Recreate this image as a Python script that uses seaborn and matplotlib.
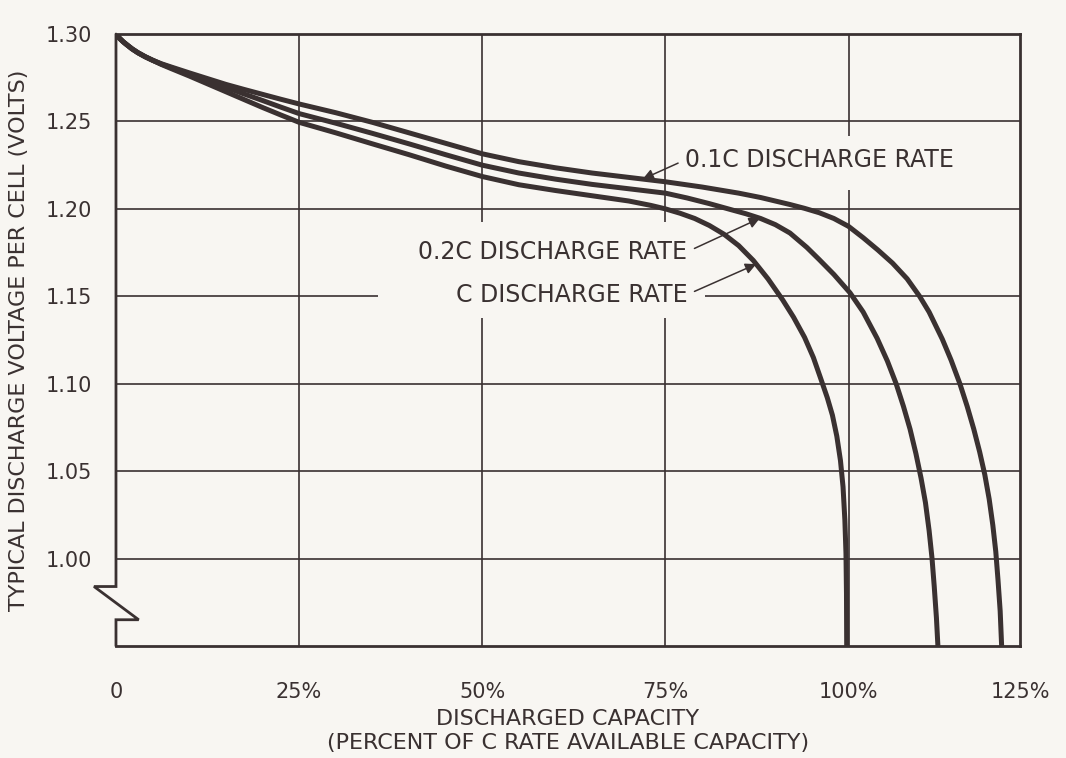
import numpy as np
import pandas as pd
import matplotlib
matplotlib.use("Agg")
import matplotlib.pyplot as plt
from matplotlib.patches import Rectangle
import seaborn as sns

# Discharged capacity (% of C-rate available capacity) and cell voltage (V)
cap_01c = [0, 0.5, 1, 1.5, 2.2, 3, 4, 5, 6.2, 7.5, 10, 12.5, 15, 17.5, 20, 22.5,
           25, 30, 35, 40, 45, 50, 55, 60, 65, 70, 75, 80, 85, 88, 90, 92, 94, 96,
           98, 100, 102, 104, 106, 108, 109.7, 111, 112.8, 114, 115.2, 116.2,
           117.1, 117.9, 118.6, 119.2, 119.7, 120.1, 120.4, 120.7, 120.9]
volt_01c = [1.3000, 1.2975, 1.2955, 1.2938, 1.2915, 1.2893, 1.2870, 1.2850,
            1.2830, 1.2812, 1.2778, 1.2745, 1.2712, 1.2683, 1.2655, 1.2627,
            1.2600, 1.2550, 1.2495, 1.2435, 1.2375, 1.2315, 1.2270, 1.2235,
            1.2205, 1.2180, 1.2155, 1.2125, 1.2090, 1.2065, 1.2045, 1.2025,
            1.2003, 1.1978, 1.1945, 1.1900, 1.1835, 1.1765, 1.1690, 1.1600,
            1.1500, 1.1410, 1.1255, 1.1135, 1.1000, 1.0870, 1.0740, 1.0610,
            1.0480, 1.0340, 1.0190, 1.0040, 0.9880, 0.9700, 0.9500]

cap_02c = [0, 0.5, 1, 1.5, 2.2, 3, 4, 5, 6.2, 7.5, 10, 12.5, 15, 17.5, 20, 22.5,
           25, 30, 35, 40, 45, 50, 55, 60, 65, 70, 75, 78, 81, 84, 86, 88, 90, 92,
           94.3, 96, 98, 100.2, 102, 103.9, 105.3, 106.5, 107.5, 108.4, 109.2,
           109.9, 110.5, 111.0, 111.4, 111.7, 112.0, 112.2]
volt_02c = [1.3000, 1.2975, 1.2955, 1.2938, 1.2915, 1.2893, 1.2870, 1.2850,
            1.2828, 1.2808, 1.2770, 1.2732, 1.2695, 1.2657, 1.2620, 1.2582,
            1.2545, 1.2490, 1.2432, 1.2372, 1.2310, 1.2250, 1.2205, 1.2170,
            1.2140, 1.2115, 1.2090, 1.2062, 1.2030, 1.1995, 1.1972, 1.1945,
            1.1910, 1.1862, 1.1780, 1.1710, 1.1625, 1.1520, 1.1410, 1.1260,
            1.1130, 1.1000, 1.0870, 1.0740, 1.0600, 1.0460, 1.0320, 1.0160,
            1.0000, 0.9840, 0.9660, 0.9500]

cap_c = [0, 0.5, 1, 1.5, 2.2, 3, 4, 5, 6.2, 7.5, 10, 12.5, 15, 17.5, 20, 22.5,
         25, 30, 35, 40, 45, 50, 55, 60, 65, 70, 73, 75, 77, 79, 81, 83, 85, 87,
         89, 91, 92.5, 94, 95.2, 96.2, 97.1, 97.8, 98.4, 98.9, 99.25, 99.5,
         99.65, 99.72, 99.75]
volt_c = [1.3000, 1.2975, 1.2955, 1.2938, 1.2915, 1.2893, 1.2870, 1.2850,
          1.2826, 1.2803, 1.2760, 1.2715, 1.2670, 1.2625, 1.2580, 1.2537,
          1.2495, 1.2435, 1.2372, 1.2310, 1.2245, 1.2185, 1.2138, 1.2105,
          1.2075, 1.2045, 1.2020, 1.2000, 1.1975, 1.1945, 1.1905, 1.1855,
          1.1790, 1.1705, 1.1600, 1.1480, 1.1380, 1.1265, 1.1150, 1.1030,
          1.0920, 1.0820, 1.0700, 1.0560, 1.0410, 1.0220, 1.0030, 0.9800,
          0.9500]

series_names = ["0.1C DISCHARGE RATE", "0.2C DISCHARGE RATE", "C DISCHARGE RATE"]
x_ticks = [0, 25, 50, 75, 100, 123.4]
x_tick_labels = ["0", "25%", "50%", "75%", "100%", "125%"]
y_ticks = [1.00, 1.05, 1.10, 1.15, 1.20, 1.25, 1.30]
y_tick_labels = ["1.00", "1.05", "1.10", "1.15", "1.20", "1.25", "1.30"]

INK = "#3a3131"
PAPER = "#f8f6f2"

sns.set_theme(style="white")
plt.rcParams["font.family"] = ["DejaVu Sans"]
plt.rcParams["text.color"] = INK

fig = plt.figure(figsize=(10.66, 7.58), dpi=100, facecolor=PAPER)
ax = fig.add_axes([0.1088, 0.1478, 0.848, 0.8073])
ax.set_facecolor(PAPER)

frames = [
    pd.DataFrame({"cap": cap_01c, "volt": volt_01c, "rate": series_names[0]}),
    pd.DataFrame({"cap": cap_02c, "volt": volt_02c, "rate": series_names[1]}),
    pd.DataFrame({"cap": cap_c, "volt": volt_c, "rate": series_names[2]}),
]
for df in frames:
    sns.lineplot(data=df, x="cap", y="volt", ax=ax, color=INK, lw=3.6,
                 sort=False, estimator=None, legend=False, zorder=4,
                 solid_capstyle="butt", solid_joinstyle="round")

ax.set_xlim(0, 123.4)
ax.set_ylim(0.95, 1.30)
ax.set_xticks(x_ticks)
ax.set_xticklabels(x_tick_labels)
ax.set_yticks(y_ticks)
ax.set_yticklabels(y_tick_labels)
ax.tick_params(axis="both", length=0, labelsize=15, colors=INK)
ax.tick_params(axis="x", pad=26)
ax.tick_params(axis="y", pad=17)

# grid at the labelled voltages and the 25 % capacity steps
for xv in x_ticks[1:5]:
    ax.axvline(xv, color=INK, lw=1.2, zorder=1)
for yv in y_ticks[:-1]:
    ax.axhline(yv, color=INK, lw=1.2, zorder=1)

for side in ["top", "right", "bottom"]:
    ax.spines[side].set_color(INK)
    ax.spines[side].set_linewidth(2)
ax.spines["left"].set_visible(False)

# left axis with a break symbol below 1.00 V
ax.plot([0, 0, -3.0, 3.1, 0, 0], [1.30, 0.984, 0.984, 0.965, 0.965, 0.95],
        color=INK, lw=2, clip_on=False, zorder=5, solid_joinstyle="miter")

# blank panels behind the rate labels
for (x0, y0, w, h) in [(0.6106, 0.7451, 0.3562, 0.0882),
                       (0.2898, 0.5359, 0.3618, 0.1569)]:
    ax.add_patch(Rectangle((x0, y0), w, h, transform=ax.transAxes,
                           fc=PAPER, ec="none", zorder=2))

ax.set_xlabel("DISCHARGED CAPACITY\n(PERCENT OF C RATE AVAILABLE CAPACITY)",
              fontsize=16, color=INK, labelpad=5, linespacing=1.25)
ax.set_ylabel("TYPICAL DISCHARGE VOLTAGE PER CELL (VOLTS)", fontsize=16,
              color=INK, labelpad=12)

arrow = dict(arrowstyle="-|>", color=INK, lw=1.1, mutation_scale=16,
             shrinkA=3, shrinkB=0)

tip_01 = 71.9
ax.annotate(series_names[0], xy=(tip_01, np.interp(tip_01, cap_01c, volt_01c)),
            xytext=(77.7, 1.228), ha="left", va="center", fontsize=17,
            color=INK, arrowprops=dict(arrow, relpos=(0, 0.5)), zorder=6)
tip_02 = 87.9
ax.annotate(series_names[1], xy=(tip_02, np.interp(tip_02, cap_02c, volt_02c)),
            xytext=(78.0, 1.1755), ha="right", va="center", fontsize=17,
            color=INK, arrowprops=dict(arrow, relpos=(1, 0.5)), zorder=6)
tip_c = 87.4
ax.annotate(series_names[2], xy=(tip_c, np.interp(tip_c, cap_c, volt_c)),
            xytext=(78.0, 1.151), ha="right", va="center", fontsize=17,
            color=INK, arrowprops=dict(arrow, relpos=(1, 0.5)), zorder=6)

fig.savefig("out.png", dpi=100, facecolor=PAPER)
